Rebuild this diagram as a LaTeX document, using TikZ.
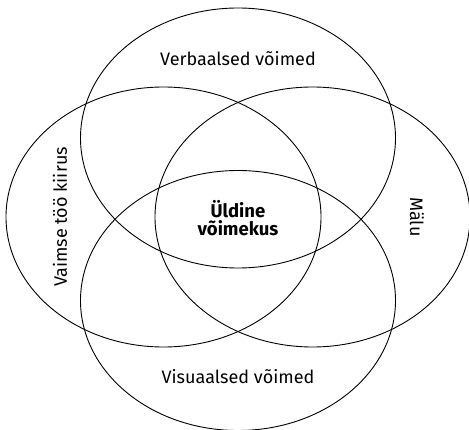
\documentclass[tikz,border=0pt]{standalone}
\usepackage{fontspec}
\setmainfont{Fira Sans}
\usetikzlibrary{shapes.geometric}

\begin{document}
\begin{tikzpicture}[x=1pt, y=-1pt,
    every node/.style={font=\fontsize{18}{20}\selectfont},
    ring/.style={ellipse, draw, line width=0.9pt, minimum width=315pt,
                 minimum height=260pt, inner sep=0pt},
    core/.style={align=center, font=\fontsize{18.5}{18}\selectfont\bfseries}
]
    \useasboundingbox (0,0) rectangle (469,430);
    \node[ring] (verb) at (238,138) {};
    \node[ring] (vaim) at (163.5,217) {};
    \node[ring] (malu) at (312.5,217) {};
    \node[ring] (visu) at (238,300.5) {};
    \node (verbtxt) at (238,59) {Verbaalsed võimed};
    \node (visutxt) at (238,377) {Visuaalsed võimed};
    \node[rotate=90] (vaimtxt) at (60,217) {Vaimse töö kiirus};
    \node[rotate=-90] (malutxt) at (417,217) {Mälu};
    \node[core] (yld) at (238,218) {Üldine\\võimekus};
\end{tikzpicture}
\end{document}
